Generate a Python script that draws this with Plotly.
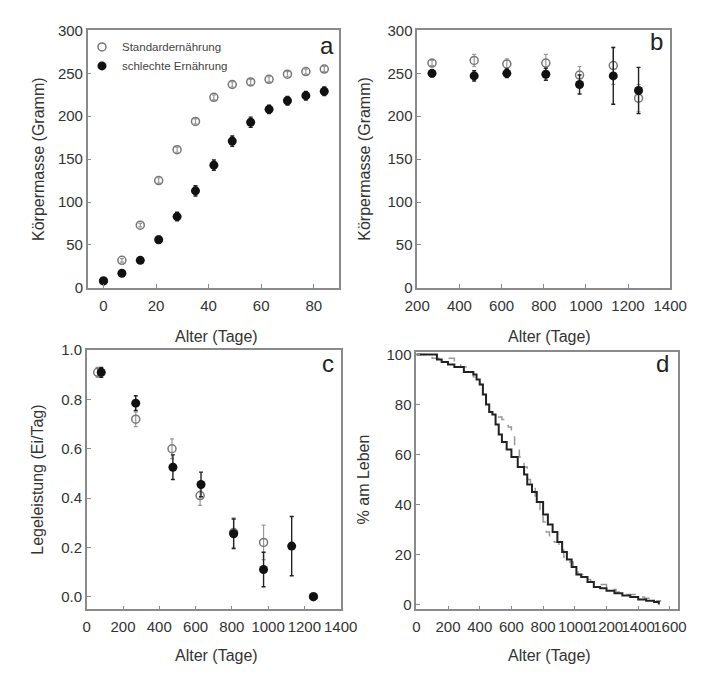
import plotly.graph_objects as go

# Panel a: growth
age_a = [0, 7, 14, 21, 28, 35, 42, 49, 56, 63, 70, 77, 84]
std_a = [8, 32, 73, 125, 161, 194, 222, 237, 240, 243, 249, 252, 255]
std_a_err = [1, 2, 2, 3, 3, 3, 3, 3, 3, 3, 3, 3, 3]
poor_a = [8, 17, 32, 56, 83, 113, 143, 171, 193, 208, 218, 224, 229]
poor_a_err = [1, 2, 3, 4, 5, 6, 6, 6, 6, 5, 5, 5, 5]

# Panel b: adult body mass
age_b = [270, 470, 625, 810, 970, 1130, 1250]
std_b = [262, 265, 261, 262, 248, 259, 221]
std_b_err = [3, 7, 6, 10, 10, 22, 16]
poor_b = [250, 247, 250, 249, 237, 247, 230]
poor_b_err = [4, 6, 5, 7, 11, 33, 27]

# Panel c: egg laying
age_c_std = [60, 270, 470, 625, 810, 975, 1250]
std_c = [0.91, 0.72, 0.60, 0.41, 0.26, 0.22, 0.0]
std_c_err = [0.02, 0.03, 0.04, 0.04, 0.06, 0.07, 0.0]
age_c_poor = [80, 270, 475, 630, 810, 975, 1130, 1250]
poor_c = [0.91, 0.785, 0.525, 0.455, 0.255, 0.11, 0.205, 0.0]
poor_c_err = [0.02, 0.03, 0.05, 0.05, 0.06, 0.07, 0.12, 0.0]

# Panel d: survival
surv_solid_x = [0, 130, 160, 200, 240, 300, 360, 380, 400, 420, 440, 460, 480, 500, 520,
                540, 570, 600, 640, 680, 700, 730, 760, 800, 830, 860, 890, 920, 950,
                980, 1010, 1040, 1080, 1120, 1160, 1200, 1250, 1300, 1350, 1400, 1450,
                1500, 1530]
surv_solid_y = [100, 98, 97, 96, 95, 93, 92, 90, 88, 84, 80, 77, 76, 72, 68,
                65, 62, 59, 55, 52, 48, 45, 41, 36, 32, 29, 25, 21, 18,
                15, 12, 11, 9, 7, 6.5, 5.5, 4.5, 3.6, 3, 2, 1.5, 1, 0]
surv_dash_x = [0, 100, 240, 280, 320, 360, 400, 420, 440, 460, 480, 540, 580, 600, 620,
               650, 680, 700, 720, 750, 780, 800, 820, 840, 870, 900, 930, 960, 990,
               1020, 1060, 1100, 1160, 1200, 1260, 1320, 1380, 1440, 1500, 1540]
surv_dash_y = [100, 98.5, 97, 95, 93, 91, 88, 84, 80, 77, 75, 74, 71, 68, 64,
               59, 55, 50, 47, 43, 38, 33, 29, 26, 25, 22, 19, 17, 14,
               12, 10, 9, 8, 6, 5, 4, 3, 2.5, 1.5, 1]

GRAY = "#8a8a8a"
OPEN = "#777777"
TXT = "#333333"
FONT = "Liberation Sans, Arial, sans-serif"

fig = go.Figure()

def add_pair(xs, ys, es, xp, yp, ep, xa, ya, legend=False):
    fig.add_trace(go.Scatter(
        x=xs, y=ys, mode="markers", xaxis=xa, yaxis=ya,
        name="Standardernährung", showlegend=legend,
        marker=dict(symbol="circle-open", size=8, color=OPEN, line=dict(width=1.5, color=OPEN)),
        error_y=dict(type="data", array=es, color="#999999", thickness=1.2, width=2),
    ))
    fig.add_trace(go.Scatter(
        x=xp, y=yp, mode="markers", xaxis=xa, yaxis=ya,
        name="schlechte Ernährung", showlegend=legend,
        marker=dict(symbol="circle", size=9, color="#111111"),
        error_y=dict(type="data", array=ep, color="#222222", thickness=1.4, width=2),
    ))

add_pair(age_a, std_a, std_a_err, age_a, poor_a, poor_a_err, "x", "y", legend=True)
add_pair(age_b, std_b, std_b_err, age_b, poor_b, poor_b_err, "x2", "y2")
add_pair(age_c_std, std_c, std_c_err, age_c_poor, poor_c, poor_c_err, "x3", "y3")

fig.add_trace(go.Scatter(
    x=surv_dash_x, y=surv_dash_y, mode="lines", xaxis="x4", yaxis="y4", showlegend=False,
    line=dict(color="#999999", width=1.5, dash="dash", shape="hv"),
))
fig.add_trace(go.Scatter(
    x=surv_solid_x, y=surv_solid_y, mode="lines", xaxis="x4", yaxis="y4", showlegend=False,
    line=dict(color="#222222", width=2, shape="hv"),
))

W, H = 714, 674

def dom_x(l, r):
    return [l / W, r / W]

def dom_y(t, b):
    return [1 - b / H, 1 - t / H]

axis_common = dict(
    showline=True, linecolor=GRAY, linewidth=1.5, mirror=True,
    ticks="inside", ticklen=4, tickcolor=GRAY, tickwidth=1,
    showgrid=False, zeroline=False, tickangle=0,
    tickfont=dict(family=FONT, size=15, color=TXT),
)

fig.update_layout(
    width=W, height=H,
    margin=dict(l=0, r=0, t=0, b=0),
    paper_bgcolor="white", plot_bgcolor="white",
    font=dict(family=FONT, color=TXT),
    xaxis=dict(domain=dom_x(78, 340), range=[-6, 89.5], tickvals=[0, 20, 40, 60, 80], anchor="y", ticklabelstandoff=3, **axis_common),
    yaxis=dict(domain=dom_y(22, 286), range=[0, 300], tickvals=[0, 50, 100, 150, 200, 250, 300], anchor="x", **axis_common),
    xaxis2=dict(domain=dom_x(422, 686), range=[200, 1400], tickvals=[200, 400, 600, 800, 1000, 1200, 1400], anchor="y2", ticklabelstandoff=3, **axis_common),
    yaxis2=dict(domain=dom_y(22, 286), range=[0, 300], tickvals=[0, 50, 100, 150, 200, 250, 300], anchor="x2", **axis_common),
    xaxis3=dict(domain=dom_x(77, 342), range=[0, 1400], tickvals=[0, 200, 400, 600, 800, 1000, 1200, 1400], anchor="y3", ticklabelstandoff=3, **axis_common),
    yaxis3=dict(domain=dom_y(350, 616), range=[-0.052, 1.0], tickvals=[0, 0.2, 0.4, 0.6, 0.8, 1.0], tickformat=".1f", anchor="x3", **axis_common),
    xaxis4=dict(domain=dom_x(421, 694), range=[0, 1650], tickvals=[0, 200, 400, 600, 800, 1000, 1200, 1400, 1600], anchor="y4", ticklabelstandoff=3, **axis_common),
    yaxis4=dict(domain=dom_y(352, 616), range=[-2, 101], tickvals=[0, 20, 40, 60, 80, 100], anchor="x4", **axis_common),
    legend=dict(x=72 / W, y=1 - 24 / H, xanchor="left", yanchor="top",
                bgcolor="rgba(0,0,0,0)", font=dict(family=FONT, size=11.5, color="#444444"),
                itemwidth=30, tracegroupgap=0),
)

def ann(text, x, y, size=16, angle=0, color=TXT):
    fig.add_annotation(text=text, x=x / W, y=1 - y / H, xref="paper", yref="paper",
                       showarrow=False, textangle=angle,
                       font=dict(family=FONT, size=size, color=color),
                       xanchor="center", yanchor="middle")

# axis titles
ann("Körpermasse (Gramm)", 26, 154, angle=-90)
ann("Körpermasse (Gramm)", 366, 154, angle=-90)
ann("Legeleistung (Ei/Tag)", 26, 483, angle=-90)
ann("% am Leben", 366, 483, angle=-90)
ann("Alter (Tage)", 212, 336)
ann("Alter (Tage)", 560, 336)
ann("Alter (Tage)", 212, 663)
ann("Alter (Tage)", 560, 663)

# panel letters
ann("a", 328, 37, size=24, color="#222222")
ann("b", 672, 33, size=24, color="#222222")
ann("c", 329, 364, size=24, color="#222222")
ann("d", 678, 364, size=24, color="#222222")

fig.write_html("out.html")
